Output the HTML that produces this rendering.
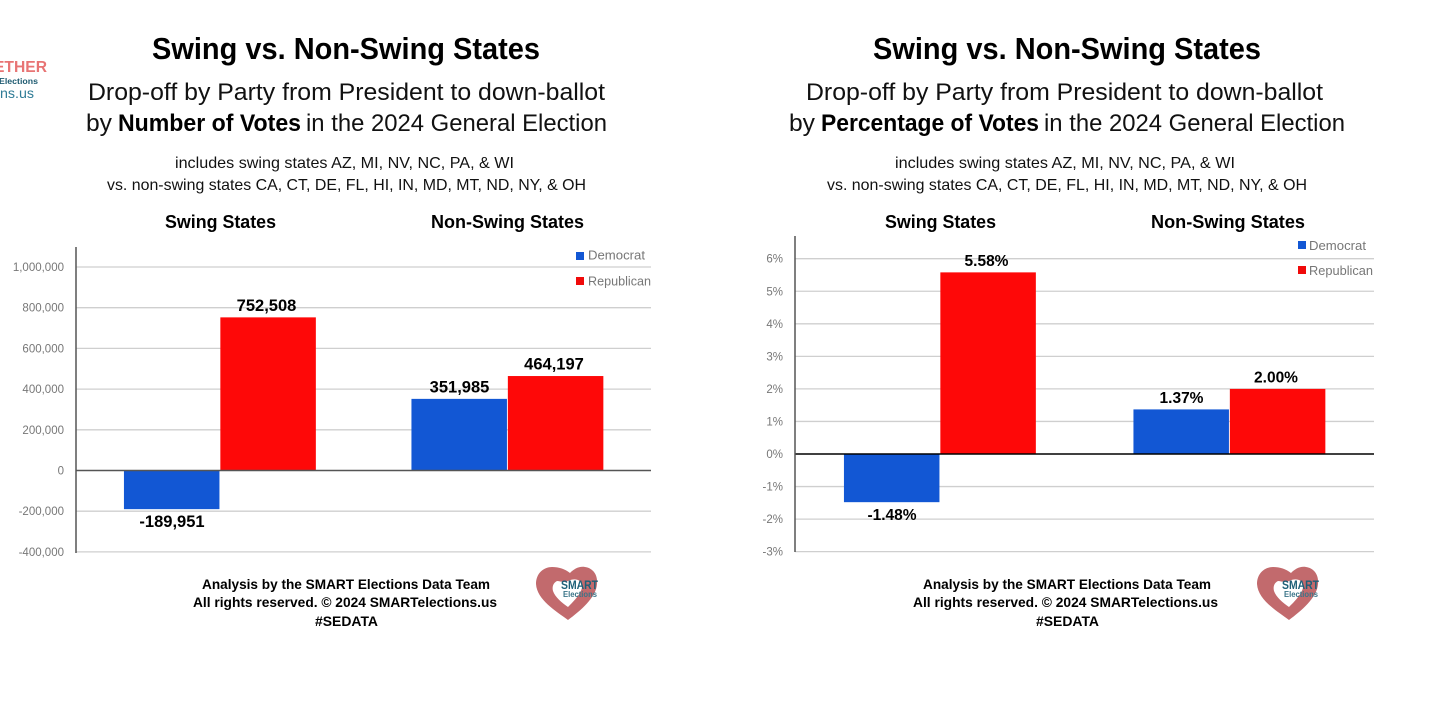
<!DOCTYPE html>
<html lang="en">
<head>
<meta charset="utf-8">
<title>Swing vs. Non-Swing States</title>
<style>
html,body{margin:0;padding:0;background:#fff;}
svg{display:block;font-family:"Liberation Sans",sans-serif;}
.title{font-size:31px;font-weight:700;fill:#000;}
.sub{font-size:24px;fill:#111;}
.subb{font-size:24px;font-weight:700;fill:#000;}
.small{font-size:16px;fill:#111;}
.head{font-size:18.5px;font-weight:700;fill:#000;}
.foot{font-size:14px;font-weight:700;fill:#000;}
.leg{font-size:12.5px;fill:#777;}
.tick{font-size:11.5px;fill:#777;text-anchor:end;}
.val{font-weight:700;fill:#000;text-anchor:middle;}
</style>
</head>
<body>
<svg id="root" xmlns="http://www.w3.org/2000/svg" width="1456" height="704" viewBox="0 0 1456 704">
<rect x="0" y="0" width="1456" height="704" fill="#fff"/>

<g>
  <text x="-6" y="72" font-size="15.5" font-weight="700" fill="#e87474" textLength="53" lengthAdjust="spacingAndGlyphs">ETHER</text>
  <text x="-1" y="84" font-size="8.5" font-weight="700" fill="#1d5a70" textLength="39" lengthAdjust="spacingAndGlyphs">Elections</text>
  <text x="0" y="98" font-size="14" fill="#2f7c96" textLength="34" lengthAdjust="spacingAndGlyphs">ns.us</text>
</g>

<g>
  <text class="title" x="152" y="59" textLength="388" lengthAdjust="spacingAndGlyphs">Swing vs. Non-Swing States</text>
  <text class="sub" x="88" y="100" textLength="517" lengthAdjust="spacingAndGlyphs">Drop-off by Party from President to down-ballot</text>
  <text class="sub" x="86" y="131" textLength="26" lengthAdjust="spacingAndGlyphs">by</text>
  <text class="subb" x="118" y="131" textLength="183" lengthAdjust="spacingAndGlyphs">Number of Votes</text>
  <text class="sub" x="306" y="131" textLength="301" lengthAdjust="spacingAndGlyphs">in the 2024 General Election</text>
  <text class="small" x="175" y="168" textLength="339" lengthAdjust="spacingAndGlyphs">includes swing states AZ, MI, NV, NC, PA, &amp; WI</text>
  <text class="small" x="107" y="190" textLength="479" lengthAdjust="spacingAndGlyphs">vs. non-swing states CA, CT, DE, FL, HI, IN, MD, MT, ND, NY, &amp; OH</text>
  <text class="head" x="165" y="228" textLength="111" lengthAdjust="spacingAndGlyphs">Swing States</text>
  <text class="head" x="431" y="228" textLength="153" lengthAdjust="spacingAndGlyphs">Non-Swing States</text>
  <text class="foot" x="202" y="589" textLength="288" lengthAdjust="spacingAndGlyphs">Analysis by the SMART Elections Data Team</text>
  <text class="foot" x="193" y="607" textLength="304" lengthAdjust="spacingAndGlyphs">All rights reserved. © 2024 SMARTelections.us</text>
  <text class="foot" x="315" y="626" textLength="63" lengthAdjust="spacingAndGlyphs">#SEDATA</text>
</g>

<g>
  <text class="title" x="873" y="59" textLength="388" lengthAdjust="spacingAndGlyphs">Swing vs. Non-Swing States</text>
  <text class="sub" x="806" y="100" textLength="517" lengthAdjust="spacingAndGlyphs">Drop-off by Party from President to down-ballot</text>
  <text class="sub" x="789" y="131" textLength="26" lengthAdjust="spacingAndGlyphs">by</text>
  <text class="subb" x="821" y="131" textLength="218" lengthAdjust="spacingAndGlyphs">Percentage of Votes</text>
  <text class="sub" x="1044" y="131" textLength="301" lengthAdjust="spacingAndGlyphs">in the 2024 General Election</text>
  <text class="small" x="895" y="168" textLength="340" lengthAdjust="spacingAndGlyphs">includes swing states AZ, MI, NV, NC, PA, &amp; WI</text>
  <text class="small" x="827" y="190" textLength="480" lengthAdjust="spacingAndGlyphs">vs. non-swing states CA, CT, DE, FL, HI, IN, MD, MT, ND, NY, &amp; OH</text>
  <text class="head" x="885" y="228" textLength="111" lengthAdjust="spacingAndGlyphs">Swing States</text>
  <text class="head" x="1151" y="228" textLength="154" lengthAdjust="spacingAndGlyphs">Non-Swing States</text>
  <text class="foot" x="923" y="589" textLength="288" lengthAdjust="spacingAndGlyphs">Analysis by the SMART Elections Data Team</text>
  <text class="foot" x="913" y="607" textLength="305" lengthAdjust="spacingAndGlyphs">All rights reserved. © 2024 SMARTelections.us</text>
  <text class="foot" x="1036" y="626" textLength="63" lengthAdjust="spacingAndGlyphs">#SEDATA</text>
</g>

<g id="chart-number"></g>
<g id="chart-percent"></g>

<g>
  <rect x="576" y="252" width="8" height="8" fill="#1257d4"/>
  <text class="leg" x="588" y="259.5" textLength="57" lengthAdjust="spacingAndGlyphs">Democrat</text>
  <rect x="576" y="277" width="8" height="8" fill="#f00a0a"/>
  <text class="leg" x="588" y="285.5" textLength="63" lengthAdjust="spacingAndGlyphs">Republican</text>
</g>
<g>
  <rect x="1298" y="241" width="8" height="8" fill="#1257d4"/>
  <text class="leg" x="1309" y="250" textLength="57" lengthAdjust="spacingAndGlyphs">Democrat</text>
  <rect x="1298" y="266" width="8" height="8" fill="#f00a0a"/>
  <text class="leg" x="1309" y="275" textLength="64" lengthAdjust="spacingAndGlyphs">Republican</text>
</g>

<g>
  <path fill-rule="evenodd" fill="#c26a6d" d="M568 620 C556 611 537 600 536 584 C536 573 544 567 552 567 C559 567 565 569 570 573 C574 569 579 566 585 567 C593 568 598 575 597 584 C596 598 580 611 568 620 Z M568 607 C574 601 583 592 582 585 C581 579 574 578 568 581 C564 583 560 581 557 581 C553 583 552 587 553 591 C555 597 562 603 568 607 Z"/>
  <text x="561" y="589" font-size="11.5" font-weight="700" fill="#1d6078" textLength="37" lengthAdjust="spacingAndGlyphs">SMART</text>
  <text x="563" y="597" font-size="8" font-weight="700" fill="#3a7488" textLength="34" lengthAdjust="spacingAndGlyphs">Elections</text>
</g>
<g transform="translate(721 0)">
  <path fill-rule="evenodd" fill="#c26a6d" d="M568 620 C556 611 537 600 536 584 C536 573 544 567 552 567 C559 567 565 569 570 573 C574 569 579 566 585 567 C593 568 598 575 597 584 C596 598 580 611 568 620 Z M568 607 C574 601 583 592 582 585 C581 579 574 578 568 581 C564 583 560 581 557 581 C553 583 552 587 553 591 C555 597 562 603 568 607 Z"/>
  <text x="561" y="589" font-size="11.5" font-weight="700" fill="#1d6078" textLength="37" lengthAdjust="spacingAndGlyphs">SMART</text>
  <text x="563" y="597" font-size="8" font-weight="700" fill="#3a7488" textLength="34" lengthAdjust="spacingAndGlyphs">Elections</text>
</g>
</svg>

<script>
var categories = ['swing', 'non-swing'];
var numberDemocrat = [-189951, 351985];
var numberRepublican = [752508, 464197];
var numberTicks = [1000000, 800000, 600000, 400000, 200000, 0, -200000, -400000];
var numberTickLabels = ['1,000,000', '800,000', '600,000', '400,000', '200,000', '0', '-200,000', '-400,000'];
var percentDemocrat = [-1.48, 1.37];
var percentRepublican = [5.58, 2.00];
var percentTicks = [6, 5, 4, 3, 2, 1, 0, -1, -2, -3];
var percentTickLabels = ['6%', '5%', '4%', '3%', '2%', '1%', '0%', '-1%', '-2%', '-3%'];

var SVGNS = 'http://www.w3.org/2000/svg';

function yNumber(v) { return 470.5 - v * 203.5 / 1000000; }
function yPercent(v) { return 454 - v * 32.55; }
function formatNumber(v) { return Math.round(v).toLocaleString('en-US'); }
function formatPercent(v) { return v.toFixed(2) + '%'; }

function drawChart(opts) {
  var g = document.getElementById(opts.id);
  var step = (opts.right - opts.left) / categories.length;
  function xCenter(i) { return opts.left + step * (i + 0.5); }

  opts.ticks.forEach(function (t, i) {
    var y = opts.y(t);
    if (t !== 0) {
      var grid = document.createElementNS(SVGNS, 'line');
      
      
      grid.setAttribute('x1', opts.left);
      grid.setAttribute('x2', opts.right);
      grid.setAttribute('y1', y);
      grid.setAttribute('y2', y);
      grid.setAttribute('stroke', '#cfcfcf');
      grid.setAttribute('stroke-width', '1.3');
      g.appendChild(grid);
    }
    var label = document.createElementNS(SVGNS, 'text');
    
    
    label.setAttribute('class', 'tick');
    label.setAttribute('x', opts.left - 12);
    label.setAttribute('y', y + 4);
    label.textContent = opts.tickLabels[i];
    g.appendChild(label);
  });

  function drawSeries(values, seriesName, color, side) {
    values.forEach(function (v, i) {
      var y0 = opts.y(0);
      var yv = opts.y(v);
      var bar = document.createElementNS(SVGNS, 'rect');
      
      
      bar.setAttribute('x', side < 0 ? xCenter(i) - opts.barWidth - 0.3 : xCenter(i) + 0.6);
      bar.setAttribute('width', opts.barWidth);
      bar.setAttribute('y', Math.min(y0, yv));
      bar.setAttribute('height', Math.abs(yv - y0));
      bar.setAttribute('fill', color);
      g.appendChild(bar);

      var val = document.createElementNS(SVGNS, 'text');
      
      
      val.setAttribute('class', 'val');
      val.setAttribute('font-size', opts.valueSize);
      val.setAttribute('x', side < 0 ? xCenter(i) - opts.barWidth / 2 : xCenter(i) + opts.barWidth / 2 - 1);
      val.setAttribute('y', v < 0 ? yv + 18 : yv - 6.5);
      val.textContent = opts.format(v);
      g.appendChild(val);
    });
  }
  drawSeries(opts.dem, 'democrat', '#1257d4', -1);
  drawSeries(opts.rep, 'republican', '#fe0808', 1);

  var zero = document.createElementNS(SVGNS, 'line');
  
  
  zero.setAttribute('x1', opts.left);
  zero.setAttribute('x2', opts.right);
  zero.setAttribute('y1', opts.y(0));
  zero.setAttribute('y2', opts.y(0));
  zero.setAttribute('stroke', opts.zeroColor);
  zero.setAttribute('stroke-width', '1.4');
  g.appendChild(zero);

  var axis = document.createElementNS(SVGNS, 'line');
  
  
  axis.setAttribute('x1', opts.left);
  axis.setAttribute('x2', opts.left);
  axis.setAttribute('y1', opts.axisTop);
  axis.setAttribute('y2', opts.axisBottom);
  axis.setAttribute('stroke', '#555');
  axis.setAttribute('stroke-width', '1.5');
  g.appendChild(axis);
}

drawChart({
  id: 'chart-number', prefix: 'votes', left: 76, right: 651, axisTop: 247, axisBottom: 553,
  barWidth: 95.5, valueSize: 16.5, y: yNumber, format: formatNumber, ticks: numberTicks, tickLabels: numberTickLabels,
  dem: numberDemocrat, rep: numberRepublican, zeroColor: '#555'
});
drawChart({
  id: 'chart-percent', prefix: 'percent', left: 795, right: 1374, axisTop: 236, axisBottom: 552,
  barWidth: 95.5, valueSize: 15.5, y: yPercent, format: formatPercent, ticks: percentTicks, tickLabels: percentTickLabels,
  dem: percentDemocrat, rep: percentRepublican, zeroColor: '#000'
});
</script>
</body>
</html>
